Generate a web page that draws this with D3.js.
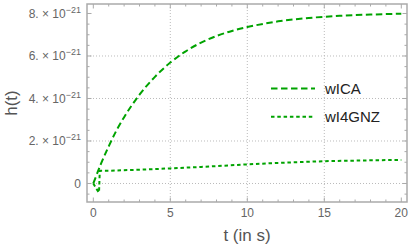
<!DOCTYPE html>
<html>
<head>
<meta charset="utf-8">
<script src="https://cdn.jsdelivr.net/npm/d3@7"></script>
<style>
  body { margin: 0; background: #fff; }
  svg { display: block; font-family: "Liberation Sans", Arial, sans-serif; }
</style>
</head>
<body>
<script>
// values of h are in units of 1e-21
var T_ICA = [0, 0.5, 1, 1.5, 2, 3, 4, 5, 6, 7, 8, 9, 10, 12, 14, 16, 18, 20];
var H_ICA = [0, 0.93, 1.75, 2.49, 3.12, 4.18, 5.02, 5.69, 6.22, 6.63, 6.94, 7.18, 7.36, 7.63, 7.79, 7.89, 7.95, 7.99];

var T_GNZ = [0, 0.2, 0.37, 0.42, 1, 3, 5, 7, 10, 12, 15, 18, 20];
var H_GNZ = [0, -0.25, -0.43, 0.6, 0.6, 0.65, 0.71, 0.78, 0.9, 0.97, 1.05, 1.09, 1.11];

var SERIES = ["wICA", "wI4GNZ"];
var X_TICKS = [0, 5, 10, 15, 20];
var Y_TICKS = [0, 2, 4, 6, 8];

var W = 413, H = 249;
var plot = {left: 87, right: 407, top: 4, bottom: 202};
var GREEN = "#00a300";

var svg = d3.select("body").append("svg").attr("width", W).attr("height", H);

var x = d3.scaleLinear().domain([-0.41, 20.37]).range([plot.left, plot.right]);
var y = d3.scaleLinear().domain([-0.871, 8.447]).range([plot.bottom, plot.top]);

// grid
var grid = svg.append("g").attr("stroke", "#bbb").attr("stroke-width", 1).attr("stroke-dasharray", "1,2");
grid.selectAll("line.gx").data([5, 10, 15]).enter().append("line")
	.attr("x1", d => x(d)).attr("x2", d => x(d))
	.attr("y1", plot.top).attr("y2", plot.bottom);
grid.selectAll("line.gy").data([0, 2, 4, 6]).enter().append("line")
	.attr("y1", d => y(d)).attr("y2", d => y(d))
	.attr("x1", plot.left).attr("x2", plot.right);

// frame
svg.append("rect")
	.attr("x", plot.left).attr("y", plot.top)
	.attr("width", plot.right - plot.left).attr("height", plot.bottom - plot.top)
	.attr("fill", "none").attr("stroke", "#aaa").attr("stroke-width", 1.5);

// ticks (inward, all four sides)
var ticks = svg.append("g").attr("stroke", "#aaa").attr("stroke-width", 1);
var xMinor = d3.range(0, 21, 1);
var yMinor = d3.range(-0.5, 8.5, 0.5);
xMinor.forEach(function(d){
	var len = (d % 5 === 0) ? 4.5 : 2.5;
	ticks.append("line").attr("x1", x(d)).attr("x2", x(d)).attr("y1", plot.bottom).attr("y2", plot.bottom - len);
	ticks.append("line").attr("x1", x(d)).attr("x2", x(d)).attr("y1", plot.top).attr("y2", plot.top + len);
});
yMinor.forEach(function(d){
	var len = (d % 2 === 0) ? 4.5 : 2.5;
	ticks.append("line").attr("y1", y(d)).attr("y2", y(d)).attr("x1", plot.left).attr("x2", plot.left + len);
	ticks.append("line").attr("y1", y(d)).attr("y2", y(d)).attr("x1", plot.right).attr("x2", plot.right - len);
});

// tick labels
svg.append("g").selectAll("text").data(X_TICKS).enter().append("text")
	.attr("x", d => x(d)).attr("y", 217)
	.attr("text-anchor", "middle")
	.attr("font-size", 12).attr("fill", "#666")
	.text(d => d);

var yl = svg.append("g").selectAll("text").data(Y_TICKS).enter().append("text")
	.attr("x", 81).attr("y", d => y(d) + 4.3)
	.attr("text-anchor", "end")
	.attr("font-size", 12).attr("fill", "#666");
yl.each(function(d){
	var t = d3.select(this);
	if (d === 0) { t.text("0"); return; }
	t.append("tspan").text(d + ". \u00d7 10");
	t.append("tspan").attr("dy", -5).attr("font-size", 9).text("\u221221");
});

// axis titles
svg.append("text")
	.attr("x", (plot.left + plot.right) / 2).attr("y", 241)
	.attr("text-anchor", "middle").attr("font-size", 17).attr("fill", "#555")
	.text("t (in s)");
svg.append("text")
	.attr("transform", "translate(17," + ((plot.top + plot.bottom) / 2) + ") rotate(-90)")
	.attr("text-anchor", "middle").attr("font-size", 17).attr("fill", "#555")
	.text("h(t)");

// curves
svg.append("clipPath").attr("id", "clip").append("rect")
	.attr("x", plot.left).attr("y", plot.top)
	.attr("width", plot.right - plot.left).attr("height", plot.bottom - plot.top);

var lineSmooth = d3.line().x(d => x(d[0])).y(d => y(d[1])).curve(d3.curveMonotoneX);
var lineStraight = d3.line().x(d => x(d[0])).y(d => y(d[1]));

var curves = svg.append("g").attr("clip-path", "url(#clip)");
curves.append("path")
	.attr("d", lineSmooth(d3.zip(T_ICA, H_ICA)))
	.attr("fill", "none").attr("stroke", GREEN).attr("stroke-width", 2)
	.attr("stroke-dasharray", "6.5,3.5");
curves.append("path")
	.attr("d", lineStraight(d3.zip(T_GNZ, H_GNZ)))
	.attr("fill", "none").attr("stroke", GREEN).attr("stroke-width", 2)
	.attr("stroke-dasharray", "3.5,2.8");

// legend
var dashes = ["6.5,3.5", "3.5,2.8"];
var legend = svg.append("g");
SERIES.forEach(function(name, i){
	var ly = 88.5 + i * 28.3;
	legend.append("line")
		.attr("x1", 271).attr("x2", 315).attr("y1", ly).attr("y2", ly)
		.attr("stroke", GREEN).attr("stroke-width", 2).attr("stroke-dasharray", dashes[i]);
	legend.append("text")
		.attr("x", 325).attr("y", ly + 5.4)
		.attr("font-size", 15).attr("fill", "#222")
		.text(name);
});
</script>
</body>
</html>
